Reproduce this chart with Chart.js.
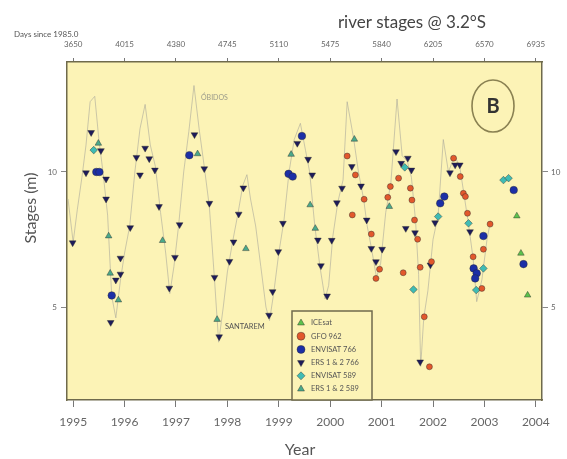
<!DOCTYPE html>
<html lang="en">
<head>
<meta charset="UTF-8" />
<title>river stages @ 3.2°S</title>
<script src="https://cdn.jsdelivr.net/npm/chart.js"></script>
<style>
  body { margin: 0; background: #fff; }
</style>
</head>
<body>
<canvas id="myChart" width="567" height="459"></canvas>
<script>
// axis ticks
const yearTicks = [1995, 1996, 1997, 1998, 1999, 2000, 2001, 2002, 2003, 2004];
const yearLabels = ["1995", "1996", "1997", "1998", "1999", "2000", "2001", "2002", "2003", "2004"];
const dayLabels = ["3650", "4015", "4380", "4745", "5110", "5475", "5840", "6205", "6570", "6935"];
const stageTicks = [5, 10];

// gauge record (year, stage m)
const gauge = [
  [1994.9, 9.0], [1995.0, 7.4], [1995.08, 8.6], [1995.17, 9.8], [1995.25, 11.0], [1995.33, 12.6],
  [1995.42, 12.8], [1995.5, 11.2], [1995.58, 10.0], [1995.67, 8.4], [1995.75, 5.4], [1995.83, 4.6],
  [1995.92, 6.0], [1996.0, 7.0], [1996.1, 8.0], [1996.2, 10.0], [1996.3, 11.6], [1996.4, 12.5],
  [1996.5, 11.0], [1996.6, 10.2], [1996.7, 8.5], [1996.8, 7.0], [1996.88, 5.5], [1996.96, 6.5],
  [1997.05, 8.0], [1997.15, 10.0], [1997.25, 11.5], [1997.35, 13.2], [1997.45, 11.6], [1997.55, 10.2],
  [1997.65, 8.7], [1997.75, 6.0], [1997.83, 3.7], [1997.92, 5.0], [1998.0, 6.3], [1998.1, 7.4],
  [1998.2, 8.4], [1998.3, 9.5], [1998.38, 9.9], [1998.45, 9.0], [1998.55, 8.0], [1998.65, 6.5],
  [1998.75, 5.0], [1998.82, 4.5], [1998.9, 5.5], [1999.0, 7.0], [1999.1, 8.2], [1999.2, 10.0],
  [1999.3, 11.2], [1999.42, 11.8], [1999.52, 10.8], [1999.6, 10.0], [1999.7, 8.0], [1999.8, 6.5],
  [1999.9, 5.3], [1999.97, 5.8], [2000.05, 7.6], [2000.15, 8.9], [2000.25, 9.7], [2000.33, 12.6],
  [2000.45, 11.3], [2000.55, 10.0], [2000.65, 9.0], [2000.72, 8.0], [2000.8, 7.2], [2000.9, 6.1],
  [2000.98, 6.6], [2001.08, 8.5], [2001.18, 9.6], [2001.3, 12.7], [2001.4, 10.6], [2001.5, 10.4],
  [2001.58, 9.8], [2001.66, 8.2], [2001.72, 6.2], [2001.76, 2.8], [2001.82, 4.6], [2001.9, 5.6],
  [2002.0, 7.5], [2002.1, 8.4], [2002.2, 11.2], [2002.3, 10.0], [2002.42, 10.6], [2002.52, 10.2],
  [2002.6, 9.2], [2002.68, 8.2], [2002.78, 6.8], [2002.85, 5.2], [2002.95, 6.0], [2003.05, 7.5],
  [2003.12, 8.2]
];

// altimetry series (year, stage m)
const icesat = [[2003.63, 8.37], [2003.71, 6.99], [2003.84, 5.44]];
const gfo = [
  [2000.33, 10.59], [2000.49, 9.89], [2000.66, 8.99], [2000.43, 8.41], [2000.8, 7.7], [2000.96, 6.4],
  [2000.89, 6.06], [2001.17, 9.46], [2001.12, 9.06], [2001.33, 9.77], [2001.56, 9.4], [2001.59, 8.96],
  [2001.64, 8.22], [2001.7, 7.51], [2001.42, 6.27], [2001.75, 6.47], [2001.97, 6.68], [2001.83, 4.64],
  [2001.93, 2.79], [2002.4, 10.51], [2002.53, 9.83], [2002.59, 9.21], [2002.63, 9.09], [2002.67, 8.47],
  [2003.11, 8.07], [2002.98, 7.14], [2002.78, 6.86], [2002.95, 5.69]
];
const envisat766 = [
  [1995.45, 10.0], [1995.51, 10.0], [1995.75, 5.43], [1997.26, 10.62], [1999.19, 9.93], [1999.27, 9.83],
  [1999.45, 11.33], [2002.14, 8.84], [2002.22, 9.09], [2002.98, 7.63], [2002.79, 6.43], [2002.85, 6.25],
  [2002.82, 6.06], [2003.57, 9.33], [2003.76, 6.59]
];
const ers766 = [
  [1994.99, 7.38], [1995.35, 11.46], [1995.54, 10.79], [1995.25, 9.97], [1995.64, 9.74], [1995.64, 9.0],
  [1995.92, 6.81], [1995.92, 6.22], [1995.83, 6.0], [1995.73, 4.43], [1996.11, 7.94], [1996.23, 10.54],
  [1996.4, 10.88], [1996.3, 9.89], [1996.48, 10.49], [1996.59, 10.07], [1996.67, 8.72], [1996.98, 6.84],
  [1996.87, 5.7], [1997.07, 8.05], [1997.36, 11.38], [1997.55, 10.12], [1997.65, 8.84], [1997.75, 6.1],
  [1997.84, 3.9], [1998.04, 6.69], [1998.12, 7.41], [1998.22, 8.44], [1998.31, 9.41], [1998.81, 4.7],
  [1998.88, 5.57], [1998.99, 7.05], [1999.08, 8.1], [1999.36, 11.06], [1999.57, 10.47], [1999.65, 9.89],
  [1999.76, 7.48], [1999.82, 6.53], [1999.94, 5.41], [2000.03, 7.47], [2000.13, 8.86], [2000.23, 9.4],
  [2000.42, 10.2], [2000.6, 9.48], [2000.71, 8.22], [2000.8, 7.17], [2001.01, 7.14], [2000.89, 6.68],
  [2001.28, 10.75], [2001.38, 10.32], [2001.51, 10.51], [2001.58, 10.07], [2001.47, 7.91], [2001.65, 7.75],
  [2001.95, 6.56], [2001.75, 2.97], [2002.04, 8.12], [2002.33, 9.97], [2002.43, 10.26], [2002.52, 10.26],
  [2002.72, 7.79]
];
const envisat589 = [
  [1995.4, 10.81], [2001.45, 10.17], [2001.62, 5.65], [2002.1, 8.35], [2002.69, 8.1], [2002.98, 6.43],
  [2002.84, 5.63], [2003.37, 9.7], [2003.47, 9.77]
];
const ers589 = [
  [1995.69, 7.63], [1995.72, 6.25], [1995.49, 11.06], [1995.88, 5.26], [1996.74, 7.46], [1997.42, 10.67],
  [1997.8, 4.54], [1998.36, 7.16], [1999.24, 10.65], [1999.61, 8.78], [1999.71, 7.91], [2000.47, 11.21],
  [2001.15, 8.72]
];

const FONT = "Lato, 'Open Sans', sans-serif";
const FRAME = "#6f6a4c";
const PLOT_BG = "#fcf3b6";

const toXY = (arr) => arr.map((p) => ({ x: p[0], y: p[1] }));

function markers(label, data, style, color, radius, rotation) {
  return {
    label: label,
    data: toXY(data),
    pointStyle: style,
    rotation: rotation || 0,
    pointRadius: radius,
    backgroundColor: color,
    borderColor: "rgba(40,40,40,0.7)",
    borderWidth: 0.6,
    showLine: false,
    order: 1,
  };
}

const decor = {
  id: "decor",
  beforeDraw(chart) {
    const { ctx, chartArea: a } = chart;
    ctx.save();
    ctx.fillStyle = PLOT_BG;
    ctx.fillRect(a.left, a.top, a.right - a.left, a.bottom - a.top);
    ctx.restore();
  },
  afterDraw(chart) {
    const ctx = chart.ctx;
    ctx.save();
    // titles
    ctx.fillStyle = "#444";
    ctx.textBaseline = "alphabetic";
    ctx.textAlign = "center";
    ctx.font = "17px " + FONT;
    ctx.fillText("river stages @ 3.2°S", 412, 28);
    ctx.textAlign = "left";
    ctx.font = "8px " + FONT;
    ctx.fillStyle = "#555";
    ctx.fillText("Days since 1985.0", 14, 37);
    ctx.textAlign = "center";
    ctx.fillStyle = "#555";
    ctx.font = "16px " + FONT;
    ctx.fillText("Year", 300, 455);
    ctx.save();
    ctx.translate(36, 208);
    ctx.rotate(-Math.PI / 2);
    ctx.fillText("Stages (m)", 0, 0);
    ctx.restore();

    // annotations
    ctx.font = "7px " + FONT;
    ctx.textAlign = "left";
    ctx.fillStyle = "#9a9a8a";
    ctx.fillText("ÓBIDOS", 201, 100);
    ctx.fillStyle = "#555";
    ctx.font = "7.5px " + FONT;
    ctx.fillText("SANTAREM", 225, 329);

    // B label
    ctx.strokeStyle = "#8a8152";
    ctx.lineWidth = 1.6;
    ctx.beginPath();
    ctx.ellipse(493, 106, 21, 26, 0, 0, Math.PI * 2);
    ctx.stroke();
    ctx.fillStyle = "#333";
    ctx.font = "bold 20px " + FONT;
    ctx.textAlign = "center";
    ctx.textBaseline = "middle";
    ctx.fillText("B", 493, 107);

    // legend box
    const bx = 292, by = 311, bw = 80, bh = 89;
    ctx.fillStyle = PLOT_BG;
    ctx.fillRect(bx, by, bw, bh);
    ctx.strokeStyle = FRAME;
    ctx.lineWidth = 1.5;
    ctx.strokeRect(bx, by, bw, bh);
    ctx.textAlign = "left";
    ctx.font = "7.5px " + FONT;
    chart.data.datasets.forEach((ds) => {
      if (ds.order !== 1) return;
      const y = 323 + ds.legendRow * 13.2;
      ctx.fillStyle = ds.backgroundColor;
      ctx.strokeStyle = ds.borderColor;
      ctx.lineWidth = ds.borderWidth;
      Chart.helpers.drawPoint(ctx, { pointStyle: ds.pointStyle, radius: 4, rotation: ds.rotation, borderWidth: ds.borderWidth }, 301, y);
      ctx.fillStyle = "#555";
      ctx.textBaseline = "middle";
      ctx.fillText(ds.label, 311, y);
    });
    ctx.restore();
  },
};

const sets = [
  Object.assign(markers("ICEsat", icesat, "triangle", "#5cc24c", 3.8), { legendRow: 0 }),
  Object.assign(markers("GFO 962", gfo, "circle", "#e2582c", 3), { legendRow: 1 }),
  Object.assign(markers("ENVISAT 766", envisat766, "circle", "#1c2fa6", 3.8), { legendRow: 2 }),
  Object.assign(markers("ERS 1 & 2 766", ers766, "triangle", "#1d1b5a", 3.9, 180), { legendRow: 3 }),
  Object.assign(markers("ENVISAT 589", envisat589, "rectRot", "#3fbcb4", 3.8), { legendRow: 4 }),
  Object.assign(markers("ERS 1 & 2 589", ers589, "triangle", "#4aa98a", 3.8), { legendRow: 5 }),
];

const ctx = document.getElementById("myChart").getContext("2d");
const myChart = new Chart(ctx, {
  type: "scatter",
  data: {
    datasets: [
      {
        label: "gauge",
        type: "line",
        data: toXY(gauge),
        borderColor: "rgba(170,168,155,0.6)",
        borderWidth: 1,
        pointRadius: 0,
        tension: 0,
        fill: false,
        order: 10,
      },
    ].concat(sets),
  },
  options: {
    responsive: false,
    animation: false,
    layout: { padding: 0 },
    plugins: { legend: { display: false }, tooltip: { enabled: false } },
    scales: {
      x: {
        type: "linear",
        position: "bottom",
        min: 1994.88,
        max: 2004.12,
        afterBuildTicks: (s) => { s.ticks = yearTicks.map((v) => ({ value: v })); },
        afterFit: (s) => { s.height = 59; },
        ticks: {
          autoSkip: false,
          maxRotation: 0,
          padding: 8,
          color: "#666",
          font: { family: FONT, size: 12 },
          callback: (v, i) => yearLabels[i],
        },
        grid: { drawOnChartArea: false, tickLength: 7, color: "#777" },
        border: { color: FRAME, width: 1.5 },
      },
      x2: {
        type: "linear",
        position: "top",
        min: 1994.88,
        max: 2004.12,
        afterBuildTicks: (s) => { s.ticks = yearTicks.map((v) => ({ value: v })); },
        afterFit: (s) => { s.height = 62; },
        ticks: {
          autoSkip: false,
          maxRotation: 0,
          padding: 9,
          color: "#666",
          font: { family: FONT, size: 8 },
          callback: (v, i) => dayLabels[i],
        },
        grid: { drawOnChartArea: false, tickLength: 4, color: "#777" },
        border: { color: FRAME, width: 1.5 },
      },
      y: {
        type: "linear",
        position: "left",
        min: 1.56,
        max: 14.07,
        afterBuildTicks: (s) => { s.ticks = stageTicks.map((v) => ({ value: v })); },
        afterFit: (s) => { s.width = 67; },
        ticks: { padding: 4, color: "#666", font: { family: FONT, size: 8 } },
        grid: { drawOnChartArea: false, tickLength: 6, color: "#888" },
        border: { color: FRAME, width: 1.5 },
      },
      y2: {
        type: "linear",
        position: "right",
        min: 1.56,
        max: 14.07,
        afterBuildTicks: (s) => { s.ticks = stageTicks.map((v) => ({ value: v })); },
        afterFit: (s) => { s.width = 25; },
        ticks: { padding: 3, color: "#666", font: { family: FONT, size: 8 } },
        grid: { drawOnChartArea: false, tickLength: 6, color: "#888" },
        border: { color: FRAME, width: 1.5 },
      },
    },
  },
  plugins: [decor],
});
</script>
</body>
</html>
